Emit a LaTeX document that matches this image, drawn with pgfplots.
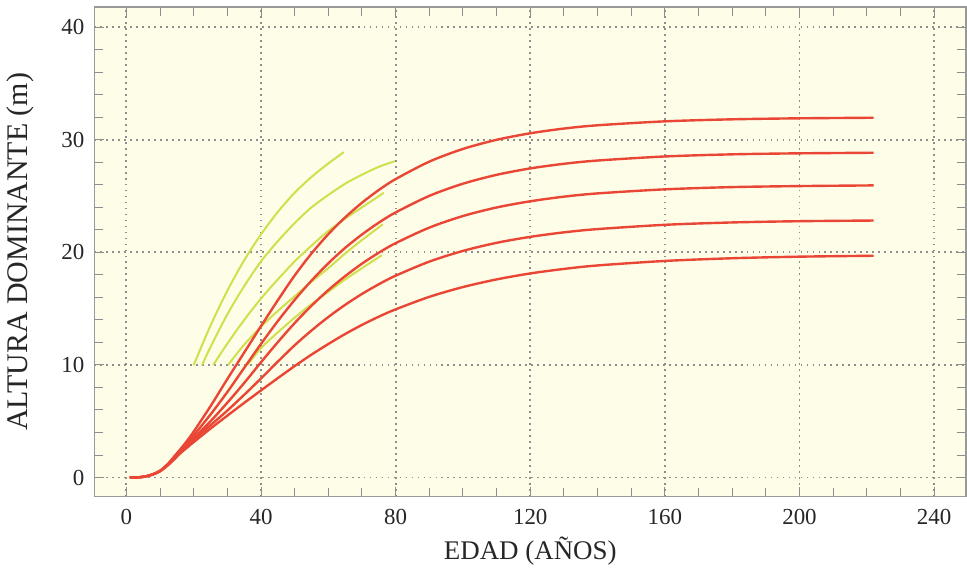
\documentclass[border=0pt]{standalone}
\usepackage{pgfplots}
\pgfplotsset{compat=1.18}
\usepackage{fontspec}
\setmainfont{Liberation Serif}

\definecolor{fondo}{HTML}{FEFDE8}
\definecolor{rojo}{HTML}{EA4636}
\definecolor{amarillo}{HTML}{CFE04C}
\definecolor{rejilla}{HTML}{8E8E8E}

\begin{document}
\begin{tikzpicture}
\begin{axis}[
  width=437pt, height=245.5pt, scale only axis,
  xmin=-9.5, xmax=249.5, ymin=-1.7, ymax=41.8,
  xtick={0,40,...,240}, ytick={0,10,...,40},
  minor x tick num=3, minor y tick num=4,
  tick align=inside,
  major tick length=5pt, minor tick length=4.5pt,
  every tick/.style={rejilla, line width=0.5pt},
  grid=major,
  major grid style={rejilla, line width=0.9pt, dash pattern=on 0.9pt off 2.1pt},
  axis line style={black!40, line width=0.8pt},
  axis background/.style={fill=fondo},
  /pgf/number format/assume math mode=true,
  tick label style={font=\fontsize{11.5}{12}\selectfont, text=black!85},
  xticklabel style={yshift=-3pt},
  yticklabel style={xshift=-1.5pt},
  xlabel={EDAD (AÑOS)},
  ylabel={ALTURA DOMINANTE (m)},
  xlabel style={font=\fontsize{13.5}{14}\selectfont, text=black!85, yshift=1pt},
  ylabel style={font=\fontsize{15}{16}\selectfont, text=black!85, yshift=7pt},
]

% curvas amarillas
\addplot[amarillo, line width=1pt, smooth] coordinates {
(20,10)(25,13.5)(30,16.6)(35,19.3)(40,21.6)(45,23.6)(50,25.3)(55,26.7)(60,27.9)(64.6,28.9)};
\addplot[amarillo, line width=1pt, smooth] coordinates {
(22.5,10)(25,11.6)(30,14.5)(35,17.0)(40,19.2)(45,21.0)(50,22.6)(55,24.0)(60,25.1)(65,26.1)(70,26.9)(75,27.6)(79.8,28.1)};
\addplot[amarillo, line width=1pt, smooth] coordinates {
(25.8,10)(30,11.9)(35,14.0)(40,15.9)(45,17.6)(50,19.2)(55,20.6)(60,21.9)(65,23.0)(70,24.0)(76.5,25.3)};
\addplot[amarillo, line width=1pt, smooth] coordinates {
(30.2,10)(35,11.8)(40,13.4)(45,14.8)(50,16.1)(55,17.4)(60,18.6)(65,19.9)(70,21.1)(76.2,22.5)};
\addplot[amarillo, line width=1pt, smooth] coordinates {
(36,10)(40,11.5)(45,12.9)(50,14.2)(55,15.4)(60,16.5)(65,17.6)(70,18.6)(75.9,19.75)};

% curvas rojas
\addplot[rojo, line width=1.2pt, smooth] coordinates {
(1,0)(4,0.03)(6,0.12)(8,0.3)(10,0.6)(12,1.1)(14,1.8)(16,2.5)(18,3.25)(20,4.08)(25,6.34)(30,8.75)(35,11.1)(40,13.45)(45,15.75)(50,17.95)(55,19.9)(60,21.62)(65,23.11)(70,24.41)(75,25.54)(80,26.51)(90,28.06)(100,29.19)(110,30.00)(120,30.58)(130,31.00)(140,31.29)(160,31.64)(180,31.82)(200,31.91)(222,31.96)};
\addplot[rojo, line width=1.2pt, smooth] coordinates {
(1,0)(4,0.03)(6,0.12)(8,0.3)(10,0.6)(12,1.1)(14,1.7)(16,2.4)(18,3.05)(20,3.75)(25,5.6)(30,7.6)(35,9.74)(40,11.87)(45,13.90)(50,15.78)(55,17.49)(60,19.03)(65,20.40)(70,21.59)(75,22.64)(80,23.55)(90,25.02)(100,26.10)(110,26.89)(120,27.46)(130,27.87)(140,28.16)(160,28.52)(180,28.71)(200,28.80)(222,28.85)};
\addplot[rojo, line width=1.2pt, smooth] coordinates {
(1,0)(4,0.03)(6,0.12)(8,0.3)(10,0.58)(12,1.05)(14,1.65)(16,2.3)(18,2.9)(20,3.5)(25,5.0)(30,6.65)(35,8.4)(40,10.24)(45,12.03)(50,13.72)(55,15.26)(60,16.65)(65,17.89)(70,19.00)(75,19.97)(80,20.82)(90,22.20)(100,23.23)(110,23.99)(120,24.54)(130,24.95)(140,25.24)(160,25.60)(180,25.80)(200,25.89)(222,25.95)};
\addplot[rojo, line width=1.2pt, smooth] coordinates {
(1,0)(4,0.03)(6,0.12)(8,0.3)(10,0.56)(12,1.05)(14,1.6)(16,2.25)(18,2.8)(20,3.35)(25,4.65)(30,5.95)(35,7.35)(40,8.8)(45,10.3)(50,11.75)(55,13.06)(60,14.26)(65,15.34)(70,16.31)(75,17.17)(80,17.93)(90,19.18)(100,20.13)(110,20.85)(120,21.38)(130,21.78)(140,22.07)(160,22.45)(180,22.66)(200,22.77)(222,22.83)};
\addplot[rojo, line width=1.2pt, smooth] coordinates {
(1,0)(4,0.03)(6,0.12)(8,0.3)(10,0.55)(12,1.0)(14,1.55)(16,2.15)(18,2.65)(20,3.15)(25,4.35)(30,5.5)(35,6.63)(40,7.74)(45,8.83)(50,9.9)(55,10.92)(60,11.86)(65,12.75)(70,13.56)(75,14.29)(80,14.94)(90,16.05)(100,16.92)(110,17.60)(120,18.13)(130,18.53)(140,18.84)(160,19.24)(180,19.48)(200,19.62)(222,19.70)};

\end{axis}
\path ([yshift=3.5pt]current axis.north west);
\end{tikzpicture}
\end{document}
